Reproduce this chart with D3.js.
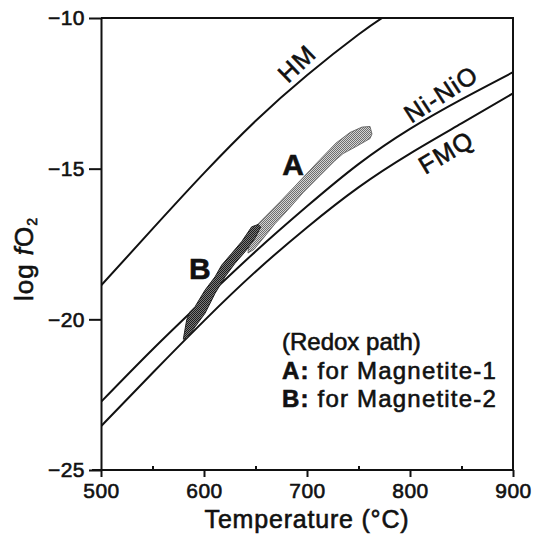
<!DOCTYPE html>
<html>
<head>
<meta charset="utf-8">
<style>
  html, body { margin: 0; padding: 0; background: #fff; }
  svg { display: block; }
  text { font-family: "Liberation Sans", Arial, sans-serif; fill: #111; }
  .heavy { stroke: #111; stroke-width: 0.6px; }
  .axis path, .axis line { stroke: #111; stroke-width: 2px; }
  .axis text { font-size: 21px; fill: #111; font-family: "Liberation Sans", Arial, sans-serif;
               stroke: #111; stroke-width: 0.6px; letter-spacing: 0.5px; }
  .buffer { fill: none; stroke: #111; stroke-width: 2px; }
</style>
</head>
<body>
<svg width="536" height="538"></svg>
<script src="https://d3js.org/d3.v7.min.js"></script>
<script>

// buffer curves (temperature in °C, log fO2)
var bufferT = [500, 550, 600, 650, 700, 750, 800, 850, 900];
var hmT = [500, 550, 600, 650, 700, 750, 775];
var hmV = [-18.88, -17.0, -15.15, -13.42, -11.9, -10.55, -9.95];
var nnoV = [-22.74, -21.0, -19.35, -17.75, -16.25, -14.85, -13.68, -12.7, -11.8];
var fmqV = [-23.55, -21.78, -20.05, -18.42, -16.95, -15.62, -14.5, -13.5, -12.5];

// redox path outlines
var pathAT = [644.7, 659.2, 673.8, 688.3, 702.9, 712.6, 728.2, 741.7, 753.4, 761.2, 763.1,
              761.2, 748.5, 735.0, 727.2, 712.6, 696.1, 680.6, 668.9, 656.3, 648.5, 642.7];
var pathAV = [-17.1, -16.6, -16.1, -15.58, -15.05, -14.7, -14.15, -13.8, -13.62, -13.6, -13.85,
              -14.0, -14.25, -14.5, -14.73, -15.23, -15.8, -16.4, -16.83, -17.36, -17.68, -17.8];
var pathBT = [579.9, 583.2, 586.4, 591.3, 601.0, 610.7, 617.2, 626.9, 636.6, 646.3, 652.7, 655.0,
              649.5, 639.8, 630.1, 620.4, 610.7, 601.0, 591.3, 583.2];
var pathBV = [-20.66, -20.02, -19.75, -19.58, -19.03, -18.59, -18.2, -17.81, -17.42, -16.93, -16.85, -16.93,
              -17.31, -17.76, -18.14, -18.59, -19.14, -19.8, -20.25, -20.63];

var xTicks = [500, 600, 700, 800, 900];
var xMinor = [550, 650, 750, 850];
var yTicks = [-10, -15, -20, -25];

var svg = d3.select("svg");
var mLeft = 101, mRight = 513, mTop = 18, mBottom = 470;

var x = d3.scaleLinear().domain([500, 900]).range([mLeft, mRight]);
var y = d3.scaleLinear().domain([-25, -10]).range([mBottom, mTop]);

var defs = svg.append("defs");
defs.append("clipPath").attr("id", "plot")
  .append("rect").attr("x", mLeft).attr("y", mTop)
  .attr("width", mRight - mLeft).attr("height", mBottom - mTop);

// stipple textures for the two paths
function stipple(id, dark, light) {
  var p = defs.append("pattern").attr("id", id)
    .attr("width", 2).attr("height", 2).attr("patternUnits", "userSpaceOnUse");
  p.append("rect").attr("width", 2).attr("height", 2).attr("fill", light);
  p.append("rect").attr("width", 1).attr("height", 1).attr("fill", dark);
  p.append("rect").attr("x", 1).attr("y", 1).attr("width", 1).attr("height", 1).attr("fill", dark);
}
stipple("texA", "#6e6e6e", "#d4d4d4");
stipple("texB", "#1c1c1c", "#7a7a7a");

var g = svg.append("g").attr("clip-path", "url(#plot)");

var line = d3.line()
  .x(function(d) { return x(d[0]); })
  .y(function(d) { return y(d[1]); })
  .curve(d3.curveNatural);

g.append("path").attr("class", "buffer").attr("d", line(d3.zip(hmT, hmV)));
g.append("path").attr("class", "buffer").attr("d", line(d3.zip(bufferT, nnoV)));
g.append("path").attr("class", "buffer").attr("d", line(d3.zip(bufferT, fmqV)));

var shape = d3.line()
  .x(function(d) { return x(d[0]); })
  .y(function(d) { return y(d[1]); })
  .curve(d3.curveLinearClosed);

g.append("path").attr("d", shape(d3.zip(pathAT, pathAV)))
  .attr("fill", "url(#texA)").attr("stroke", "#555").attr("stroke-width", 0.8);
g.append("path").attr("d", shape(d3.zip(pathBT, pathBV)))
  .attr("fill", "url(#texB)").attr("stroke", "#222").attr("stroke-width", 1);

// frame
svg.append("path")
  .attr("d", "M" + mLeft + "," + mTop + "H" + mRight + "V" + mBottom)
  .attr("fill", "none").attr("stroke", "#111").attr("stroke-width", 2);

// axes
svg.append("g").attr("class", "axis")
  .attr("transform", "translate(0," + mBottom + ")")
  .call(d3.axisBottom(x).tickValues(xTicks).tickSize(7).tickSizeOuter(0).tickPadding(6))
  .call(function(a) { a.select(".domain").attr("d", "M" + (mLeft - 9) + ",0H" + mRight); });

svg.append("g").attr("class", "axis")
  .attr("transform", "translate(0," + mBottom + ")")
  .call(d3.axisTop(x).tickValues(xMinor).tickSize(4).tickFormat(""))
  .call(function(a) { a.select(".domain").remove(); });

svg.append("g").attr("class", "axis")
  .attr("transform", "translate(" + mLeft + ",0)")
  .call(d3.axisLeft(y).tickValues(yTicks).tickSize(12).tickSizeOuter(0).tickPadding(4));

// axis titles
svg.append("text").attr("class", "heavy")
  .attr("x", (mLeft + mRight) / 2).attr("y", 528)
  .attr("text-anchor", "middle")
  .style("font-size", "25px").style("letter-spacing", "0.8px")
  .text("Temperature (°C)");

var yl = svg.append("text").attr("class", "heavy")
  .attr("transform", "translate(33,259) rotate(-90)")
  .attr("text-anchor", "middle")
  .style("font-size", "26px").style("letter-spacing", "1px");
yl.append("tspan").text("log ");
yl.append("tspan").style("font-style", "italic").text("f");
yl.append("tspan").text("O");
yl.append("tspan").attr("dy", 4).style("font-size", "14px").text("2");

// curve labels
var labels = [
  { text: "HM", t: 690, v: -11.5, angle: -44, size: 25, bold: false },
  { text: "Ni-NiO", t: 830, v: -12.52, angle: -33, size: 25, bold: false },
  { text: "FMQ", t: 835, v: -14.45, angle: -31, size: 25, bold: false },
  { text: "A", t: 686.4, v: -14.85, angle: 0, size: 30, bold: true },
  { text: "B", t: 596, v: -18.3, angle: 0, size: 30, bold: true }
];
svg.selectAll(".clabel").data(labels).enter().append("text")
  .attr("class", "clabel heavy")
  .attr("transform", function(d) { return "translate(" + x(d.t) + "," + y(d.v) + ") rotate(" + d.angle + ")"; })
  .attr("text-anchor", "middle").attr("dy", "0.36em")
  .style("font-size", function(d) { return d.size + "px"; })
  .style("font-weight", function(d) { return d.bold ? "bold" : "normal"; })
  .style("letter-spacing", function(d) { return d.bold ? "0px" : "1.2px"; })
  .text(function(d) { return d.text; });

// legend
var legendRows = [
  { key: "", text: "(Redox path)", spacing: 0 },
  { key: "A:", text: " for Magnetite-1", spacing: 1.2 },
  { key: "B:", text: " for Magnetite-2", spacing: 1.2 }
];
var leg = svg.selectAll(".leg").data(legendRows).enter().append("text")
  .attr("class", "leg heavy")
  .attr("x", 282).attr("y", function(d, i) { return 350 + i * 28.5; })
  .style("font-size", "24px")
  .style("letter-spacing", function(d) { return d.spacing + "px"; });
leg.append("tspan").style("font-weight", "bold").text(function(d) { return d.key; });
leg.append("tspan").text(function(d) { return d.text; });

</script>
</body>
</html>
